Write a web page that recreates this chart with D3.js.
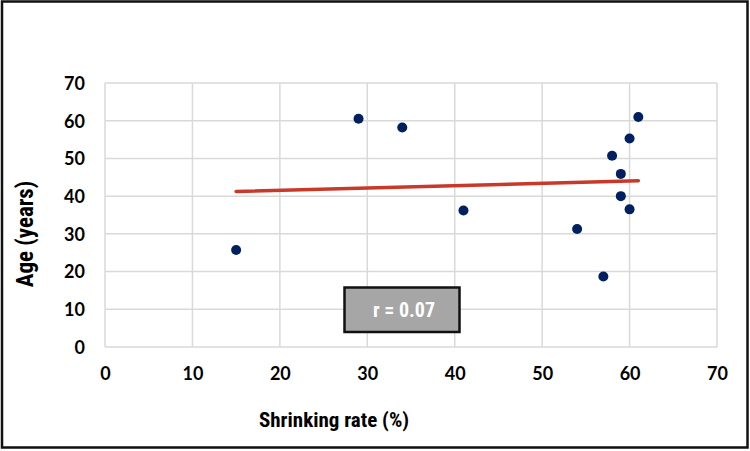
<!DOCTYPE html>
<html>
<head>
<meta charset="utf-8">
<script src="https://cdn.jsdelivr.net/npm/d3@7"></script>
<style>
  body { margin: 0; background: #fff; }
  svg text { font-family: "Liberation Sans Narrow", "Roboto Condensed", Lato, sans-serif; font-weight: bold; }
</style>
</head>
<body>
<svg id="chart"></svg>
<script>
// shrinking rate (%) vs age (years)
const shrinkRate = [15, 29, 34, 41, 54, 57, 58, 59, 59, 60, 60, 61];
const ageYears   = [25.7, 60.5, 58.2, 36.2, 31.3, 18.7, 50.7, 45.9, 40, 55.3, 36.5, 61];
const xTicks = [0, 10, 20, 30, 40, 50, 60, 70];
const yTicks = [0, 10, 20, 30, 40, 50, 60, 70];
const rLabel = "r = 0.07";

const width = 750, height = 451;
const margin = { top: 83, right: 33, bottom: 104, left: 105 };

const svg = d3.select("#chart").attr("width", width).attr("height", height);

const x = d3.scaleLinear().domain([0, 70]).range([margin.left, width - margin.right]);
const y = d3.scaleLinear().domain([0, 70]).range([height - margin.bottom, margin.top]);

// grid
svg.append("g")
    .selectAll("line.v")
    .data(xTicks)
    .join("line")
    .attr("x1", d => x(d)).attr("x2", d => x(d))
    .attr("y1", y(0)).attr("y2", y(70))
    .attr("stroke", "#d9d9d9").attr("stroke-width", 1.5);

svg.append("g")
    .selectAll("line.h")
    .data(yTicks)
    .join("line")
    .attr("x1", x(0)).attr("x2", x(70))
    .attr("y1", d => y(d)).attr("y2", d => y(d))
    .attr("stroke", "#d9d9d9").attr("stroke-width", 1.5);

// axes (labels only)
const xAxis = svg.append("g")
    .attr("transform", `translate(0, ${y(0)})`)
    .call(d3.axisBottom(x).tickValues(xTicks).tickSize(0).tickPadding(20));
const yAxis = svg.append("g")
    .attr("transform", `translate(${x(0)}, 0)`)
    .call(d3.axisLeft(y).tickValues(yTicks).tickSize(0).tickPadding(20));

[xAxis, yAxis].forEach(a => {
    a.select(".domain").remove();
    a.selectAll("text").attr("font-size", 18).attr("fill", "#000")
        .style("font-family", '"Liberation Sans Narrow", Lato, sans-serif');
});
yAxis.selectAll("text").attr("dy", "0.35em");

// trend line (least squares)
const mx = d3.mean(shrinkRate), my = d3.mean(ageYears);
const slope = d3.sum(shrinkRate, (v, i) => (v - mx) * (ageYears[i] - my)) /
              d3.sum(shrinkRate, v => (v - mx) * (v - mx));
const fit = v => my + slope * (v - mx);
const [x0, x1] = d3.extent(shrinkRate);

svg.append("line")
    .attr("x1", x(x0)).attr("y1", y(fit(x0)))
    .attr("x2", x(x1)).attr("y2", y(fit(x1)))
    .attr("stroke", "#c9392a").attr("stroke-width", 3.5)
    .attr("stroke-linecap", "round");

// points
svg.append("g")
    .selectAll("circle")
    .data(shrinkRate)
    .join("circle")
    .attr("cx", d => x(d))
    .attr("cy", (d, i) => y(ageYears[i]))
    .attr("r", 5)
    .attr("fill", "#002060");

// r box
const box = svg.append("g");
box.append("rect")
    .attr("x", 344.5).attr("y", 287.5)
    .attr("width", 115).attr("height", 44.5)
    .attr("fill", "#a6a6a6").attr("stroke", "#111").attr("stroke-width", 2.5);
box.append("text")
    .attr("x", 404).attr("y", 310).attr("dy", "0.35em")
    .attr("text-anchor", "middle")
    .attr("font-size", 20).attr("fill", "#fff")
    .text(rLabel);

// axis titles
svg.append("text")
    .attr("x", 334).attr("y", 420).attr("dy", "0.35em")
    .attr("text-anchor", "middle").attr("font-size", 21)
    .text("Shrinking rate (%)");

svg.append("text")
    .attr("transform", "translate(25, 234) rotate(-90)")
    .attr("dy", "0.35em")
    .attr("text-anchor", "middle").attr("font-size", 23)
    .text("Age (years)");

// outer frame
svg.append("rect")
    .attr("x", 2).attr("y", 1.5)
    .attr("width", 745.5).attr("height", 446)
    .attr("fill", "none").attr("stroke", "#111").attr("stroke-width", 2.5);
</script>
</body>
</html>
